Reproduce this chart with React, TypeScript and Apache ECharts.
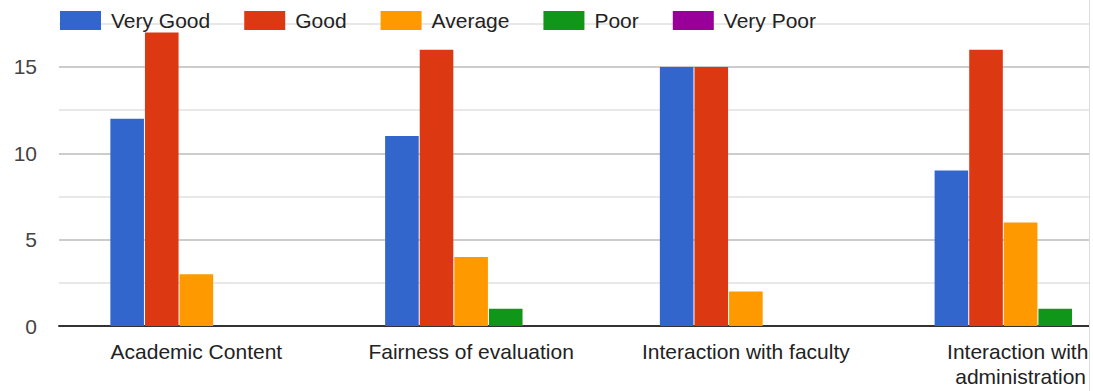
import React, { useEffect, useRef } from "react";
import * as echarts from "echarts";

const categories = [
  "Academic Content",
  "Fairness of evaluation",
  "Interaction with faculty",
  "Interaction with administration",
];
const seriesNames = ["Very Good", "Good", "Average", "Poor", "Very Poor"];
const veryGood = [12, 11, 15, 9];
const good = [17, 16, 15, 16];
const average = [3, 4, 2, 6];
const poor = [0, 1, 0, 1];
const veryPoor = [0, 0, 0, 0];
const colors = ["#3366cc", "#dc3912", "#ff9900", "#109618", "#990099"];

const FONT = 'Arial, "Liberation Sans", sans-serif';

export default function App() {
  const ref = useRef<HTMLDivElement>(null);
  useEffect(() => {
    document.body.style.margin = "0";
    const chart = echarts.init(ref.current!, undefined, { renderer: "svg" });
    const values = [veryGood, good, average, poor, veryPoor];
    chart.setOption({
      animation: false,
      textStyle: { fontFamily: FONT },
      color: colors,
      legend: {
        left: 60,
        top: 10,
        padding: 0,
        itemWidth: 41,
        itemHeight: 19,
        itemGap: 34,
        icon: "rect",
        textStyle: { fontSize: 21, color: "#222", fontFamily: FONT, padding: [0, 0, 0, 5] },
        data: seriesNames,
      },
      grid: { left: 59, right: 0, top: 23.8, bottom: 65, containLabel: false },
      xAxis: {
        type: "category",
        data: categories,
        axisLine: { show: true, lineStyle: { color: "#333", width: 2 } },
        axisTick: { show: false },
        splitLine: { show: false },
        axisLabel: {
          fontSize: 21,
          color: "#222",
          fontFamily: FONT,
          margin: 13,
          width: 250,
          overflow: "break",
          lineHeight: 25,
          interval: 0,
        },
      },
      yAxis: {
        type: "value",
        min: 0,
        max: 17.5,
        interval: 2.5,
        axisLine: { show: false },
        axisTick: { show: false },
        axisLabel: {
          fontSize: 21,
          color: "#444",
          fontFamily: FONT,
          margin: 22,
          formatter: (v: number) => (v % 5 === 0 && v <= 15 ? String(v) : ""),
        },
        splitLine: { show: true, lineStyle: { color: ["#cccccc", "#e8e8e8"], width: 2 } },
      },
      series: seriesNames.map((name, i) => ({
        name,
        type: "bar",
        data: values[i],
        barWidth: 33.6,
        barGap: "3%",
        itemStyle: { color: colors[i] },
      })),
      graphic: [
        {
          type: "rect",
          shape: { x: 1090, y: 0, width: 80, height: 391 },
          style: { fill: "#ffffff" },
          z: 100,
        },
        {
          type: "line",
          shape: { x1: 1089.5, y1: 0, x2: 1089.5, y2: 391 },
          style: { stroke: "#dddddd", lineWidth: 1 },
          z: 101,
        },
      ],
    });
    return () => chart.dispose();
  }, []);
  return (
    <div style={{ width: 1093, height: 391, overflow: "hidden", position: "relative" }}>
      <div ref={ref} style={{ width: 1158, height: 391 }} />
    </div>
  );
}
